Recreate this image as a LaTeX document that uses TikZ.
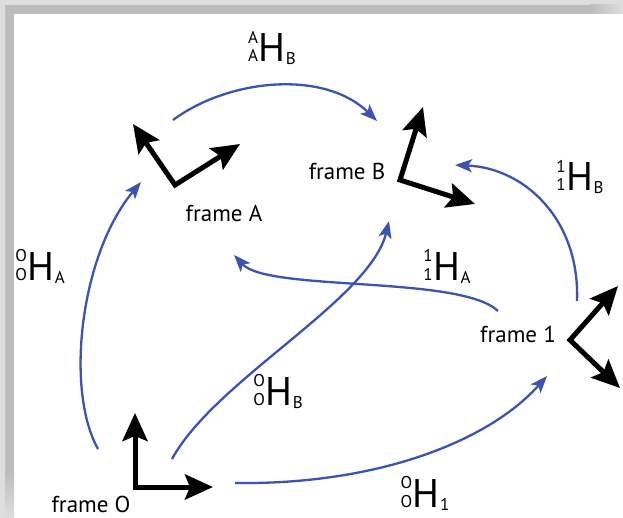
\documentclass[tikz,border=0pt]{standalone}
\usepackage{fontspec}
\setmainfont{PT Sans}
\usetikzlibrary{arrows.meta}

\definecolor{linkblue}{RGB}{60,84,176}
\definecolor{edgelight}{RGB}{222,222,222}
\definecolor{edgedark}{RGB}{188,188,188}

% sizes for the transform labels
\newcommand\subsz{\fontsize{17}{17}\selectfont}
\newcommand\bigsz{\fontsize{40}{40}\selectfont}
% ^{#1}_{#2}H_{#3}
\newcommand\hmat[3]{{\subsz\shortstack[r]{#1\\[3pt]#2}}\kern0.5pt{\bigsz H}\kern0.5pt\raisebox{-3pt}{\subsz #3}}

\begin{document}
\begin{tikzpicture}[x=1pt, y=-1pt,
  axis/.style={line width=5pt, line join=miter,
    {Stealth[length=28pt,width=25pt,inset=5pt]}-{Stealth[length=28pt,width=25pt,inset=5pt]}},
  link/.style={linkblue, line width=2.3pt, -{Stealth[length=17pt,width=13pt,inset=4pt]}},
  flabel/.style={inner sep=0pt, anchor=base, font=\fontsize{23}{23}\selectfont},
  hlabel/.style={inner sep=0pt, anchor=base}]
\useasboundingbox (0,0) rectangle (623,518);

% shadowed border along the top and left edges
\fill[white] (0,0) rectangle (623,518);
\fill[edgelight] (0,0) rectangle (623,14);
\fill[edgelight] (0,0) rectangle (14,518);
\fill[edgedark] (5,5) rectangle (590,14);
\fill[edgedark] (5,5) rectangle (14,470);
\shade[left color=edgedark, right color=edgelight] (590,5) rectangle (623,14);
\shade[top color=edgedark, bottom color=edgelight] (5,470) rectangle (14,518);

% coordinate frames
\coordinate (oA) at (175,185); \coordinate (xA) at (240,144); \coordinate (yA) at (133,124);
\coordinate (oB) at (400,180); \coordinate (xB) at (475,204); \coordinate (yB) at (423,107);
\coordinate (o1) at (570,340); \coordinate (x1) at (620,388); \coordinate (y1) at (618,286);
\coordinate (oO) at (135,487); \coordinate (xO) at (213,487); \coordinate (yO) at (135,413);

\draw[axis] (yA) -- (oA) -- (xA);
\draw[axis] (yB) -- (oB) -- (xB);
\draw[axis] (y1) -- (o1) -- (x1);
\draw[axis] (yO) -- (oO) -- (xO);

\node[flabel] (nA) at (224,222) {frame A};
\node[flabel] (nB) at (347,180) {frame B};
\node[flabel] (n1) at (518,342) {frame 1};
\node[flabel] (nO) at (91,512) {frame O};

% transform arrows
\coordinate (sAB) at (173,120); \coordinate (eAB) at (377,121);
\coordinate (sOA) at (98,449);  \coordinate (eOA) at (141,182);
\coordinate (sOB) at (172,459); \coordinate (eOB) at (389,221);
\coordinate (s1A) at (498,311); \coordinate (e1A) at (234,255);
\coordinate (s1B) at (577,301); \coordinate (e1B) at (455,165);
\coordinate (sO1) at (235,483); \coordinate (eO1) at (547,376);

\draw[link] (sAB) .. controls (230,78) and (325,70) .. (eAB);
\draw[link] (sOA) .. controls (65,390) and (80,255) .. (eOA);
\draw[link] (sOB) .. controls (215,380) and (370,300) .. (eOB);
\draw[link] (s1A) .. controls (460,275) and (268,292) .. (e1A);
\draw[link] (s1B) .. controls (580,220) and (525,168) .. (e1B);
\draw[link] (sO1) .. controls (380,485) and (490,440) .. (eO1);

\node[hlabel] (hAB) at (272,62)  {\hmat{A}{A}{B}};
\node[hlabel] (hOA) at (40,280)  {\hmat{O}{O}{A}};
\node[hlabel] (h1A) at (447,280) {\hmat{1}{1}{A}};
\node[hlabel] (h1B) at (580,191) {\hmat{1}{1}{B}};
\node[hlabel] (hOB) at (278,405) {\hmat{O}{O}{B}};
\node[hlabel] (hO1) at (425,507) {\hmat{O}{O}{1}};
\end{tikzpicture}
\end{document}
